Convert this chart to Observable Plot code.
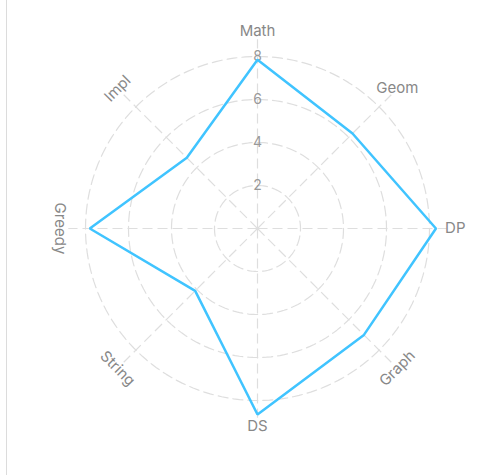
<!DOCTYPE html>
<html>
<head>
<meta charset="utf-8">
<script src="https://cdn.jsdelivr.net/npm/d3@7"></script>
<script src="https://cdn.jsdelivr.net/npm/@observablehq/plot@0.6"></script>
<style>
  html, body { margin: 0; padding: 0; background: #fff; }
  #wrap { position: relative; width: 498px; height: 475px; overflow: hidden; }
  #edge { position: absolute; left: 6px; top: 0; width: 0; height: 475px; border-left: 1px solid #dcdcdc; }
  #chart { position: absolute; left: 0; top: 0; }
</style>
</head>
<body>
<div id="wrap"><div id="edge"></div><div id="chart"></div></div>
<script>
// Data
const axes = ["Math", "Geom", "DP", "Graph", "DS", "String", "Greedy", "Impl"];
const values = [7.85, 6.25, 8.3, 7.0, 8.65, 4.1, 7.8, 4.65];
const ticks = [2, 4, 6, 8];

const n = axes.length;
const ang = i => (i * 2 * Math.PI) / n;
const spokeMax = 8.8;
const labelR = 9.2;

const pts = values.map((v, i) => ({axis: axes[i], v, a: ang(i)}));
const spokes = axes.map((name, i) => ({axis: name, a: ang(i)}));
const rings = ticks.flatMap(t => d3.range(0, 181).map(k => ({t, a: (k / 180) * 2 * Math.PI})));
const rot = {Graph: -45, String: 45, Greedy: 90, Impl: -45};

const grid = "#dedede";
const chart = Plot.plot({
  width: 498,
  height: 475,
  marginLeft: 42,
  marginRight: 26,
  marginTop: 13,
  marginBottom: 32,
  x: {domain: [-10, 10], axis: null},
  y: {domain: [-10, 10], axis: null},
  style: {fontFamily: "Inter, 'Noto Sans', sans-serif", background: "transparent"},
  marks: [
    Plot.line(rings, {
      x: d => d.t * Math.sin(d.a), y: d => d.t * Math.cos(d.a), z: "t",
      stroke: grid, strokeWidth: 1.2, strokeDasharray: "10,5"
    }),
    Plot.link(spokes, {
      x1: () => 0, y1: () => 0,
      x2: d => spokeMax * Math.sin(d.a), y2: d => spokeMax * Math.cos(d.a),
      stroke: grid, strokeWidth: 1.2, strokeDasharray: "10,5"
    }),
    Plot.text(ticks, {
      x: () => 0, y: d => d, text: d => String(d),
      fill: "#999", fontSize: 14
    }),
    Plot.line(pts, {
      x: d => d.v * Math.sin(d.a), y: d => d.v * Math.cos(d.a),
      curve: "linear-closed", stroke: "#40c4ff", strokeWidth: 2.5, strokeLinejoin: "miter"
    }),
    Plot.text(spokes, {
      x: d => labelR * Math.sin(d.a), y: d => labelR * Math.cos(d.a),
      text: "axis", rotate: d => rot[d.axis] ?? 0,
      fill: "#888", fontSize: 15
    })
  ]
});
document.getElementById("chart").appendChild(chart);
</script>
</body>
</html>
